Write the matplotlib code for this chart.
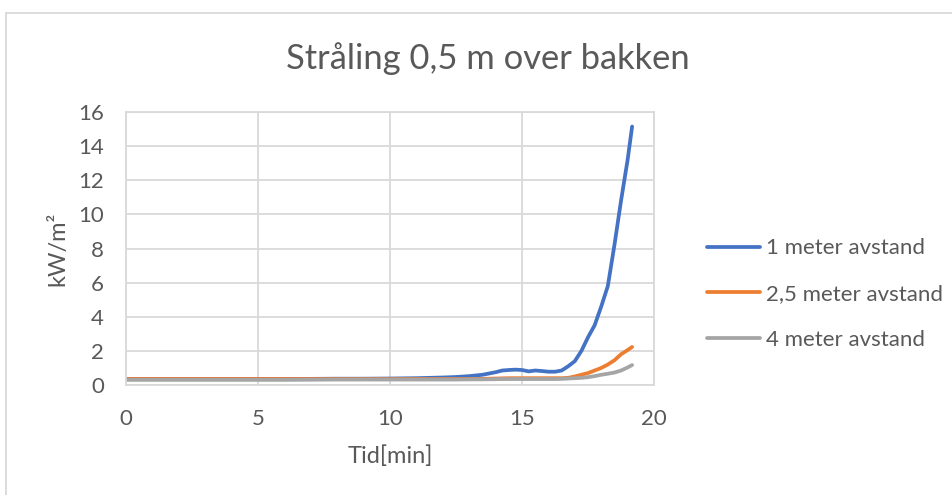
import matplotlib
matplotlib.use("Agg")
import matplotlib.pyplot as plt
from matplotlib.lines import Line2D

plt.rcParams['font.family'] = ['Lato', 'DejaVu Sans']

# Time in minutes
tid = [0, 1, 2, 3, 4, 5, 6, 7, 8, 9, 10, 11, 12, 12.5, 13, 13.5, 14, 14.25, 14.5,
       14.75, 15, 15.25, 15.5, 15.75, 16, 16.25, 16.5, 16.75, 17, 17.25, 17.5,
       17.75, 18, 18.25, 18.5, 18.75, 19, 19.17]

# Radiation (kW/m²) at three distances
avstand_1m = [0.35, 0.35, 0.35, 0.35, 0.35, 0.35, 0.35, 0.36, 0.37, 0.37, 0.38, 0.40, 0.44,
              0.47, 0.52, 0.60, 0.75, 0.85, 0.88, 0.90, 0.88, 0.80, 0.85, 0.82, 0.78,
              0.78, 0.85, 1.10, 1.40, 2.00, 2.80, 3.50, 4.60, 5.80, 8.20, 10.80,
              13.20, 15.15]
avstand_2_5m = [0.35, 0.35, 0.35, 0.35, 0.35, 0.35, 0.35, 0.35, 0.35, 0.35, 0.35, 0.35,
                0.35, 0.35, 0.35, 0.36, 0.38, 0.39, 0.40, 0.40, 0.40, 0.40, 0.40, 0.40,
                0.40, 0.40, 0.40, 0.42, 0.50, 0.60, 0.70, 0.85, 1.00, 1.20, 1.45,
                1.80, 2.05, 2.23]
avstand_4m = [0.30, 0.30, 0.30, 0.30, 0.30, 0.30, 0.30, 0.31, 0.32, 0.32, 0.32, 0.32,
              0.32, 0.32, 0.33, 0.33, 0.34, 0.35, 0.35, 0.35, 0.35, 0.35, 0.35, 0.35,
              0.35, 0.35, 0.36, 0.38, 0.40, 0.42, 0.46, 0.52, 0.60, 0.66, 0.73,
              0.85, 1.03, 1.17]

serie_navn = ["1 meter avstand", "2,5 meter avstand", "4 meter avstand"]
farger = ["#4472C4", "#ED7D31", "#A5A5A5"]

tekst = "#595959"
rutenett = "#D9D9D9"

fig = plt.figure(figsize=(9.52, 4.95), dpi=100)
ax = fig.add_axes([0.1324, 0.2222, 0.5546, 0.5515])

for verdier, navn, farge in zip([avstand_1m, avstand_2_5m, avstand_4m], serie_navn, farger):
    ax.plot(tid, verdier, color=farge, linewidth=2.7, label=navn,
            solid_capstyle='round', solid_joinstyle='round')

ax.set_xlim(0, 20)
ax.set_ylim(0, 16)
ax.set_xticks([0, 5, 10, 15, 20])
ax.set_yticks(range(0, 17, 2))
ax.grid(True, color=rutenett, linewidth=1.3)
ax.set_axisbelow(True)
for s in ax.spines.values():
    s.set_color(rutenett)
    s.set_linewidth(1.3)
ax.tick_params(length=0, labelsize=16, labelcolor=tekst)
ax.tick_params(axis='y', pad=16)
ax.tick_params(axis='x', pad=17)

ax.set_xlabel("Tid[min]", fontsize=17, color=tekst, labelpad=12)
ax.set_ylabel("kW/m²", fontsize=17, color=tekst, labelpad=7)

fig.text(0.512, 0.882, "Stråling 0,5 m over bakken", fontsize=24.8, color=tekst,
         ha='center', va='center')

leg = fig.legend(*ax.get_legend_handles_labels(), loc='center left',
                 bbox_to_anchor=(0.7427, 0.406), frameon=False,
                 fontsize=16, labelcolor=tekst, handlelength=2.4, handletextpad=0.25,
                 labelspacing=1.15, borderpad=0, borderaxespad=0)

# Chart-area frame: top and left edges
x0, ytop = 0.0058, 0.9737
fig.add_artist(Line2D([x0, x0], [-0.01, ytop], transform=fig.transFigure,
                      color=rutenett, linewidth=1.3))
fig.add_artist(Line2D([x0, 1.01], [ytop, ytop], transform=fig.transFigure,
                      color=rutenett, linewidth=1.3))

fig.savefig("out.png", dpi=100)
